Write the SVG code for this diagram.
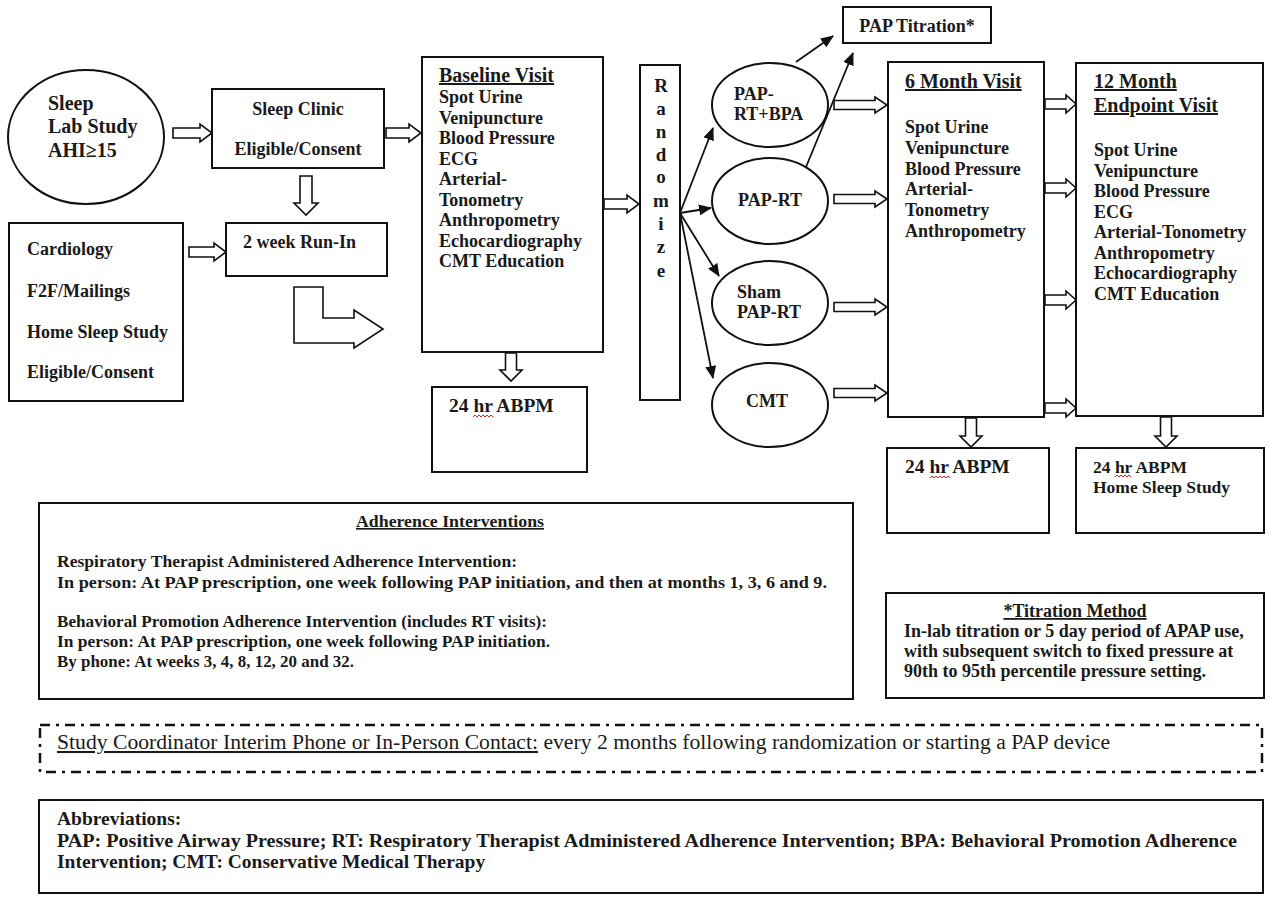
<svg xmlns="http://www.w3.org/2000/svg" width="1270" height="897" viewBox="0 0 1270 897">
<defs>
<style>
.bx{fill:#fff;stroke:#111;stroke-width:2}
.ha{fill:#fff;stroke:#111;stroke-width:1.6;stroke-linejoin:miter}
.ln{fill:none;stroke:#111;stroke-width:1.8}
.t{font-family:"Liberation Serif",serif;font-weight:bold;fill:#1a1a1a}
.r{font-family:"Liberation Serif",serif;font-weight:normal;fill:#1a1a1a}
.s18{font-size:18px}
.s20{font-size:20px}
.u{text-decoration:underline}
.sq{fill:none;stroke:#e02020;stroke-width:1}
</style>
<marker id="ah" markerUnits="userSpaceOnUse" markerWidth="13" markerHeight="11" refX="12" refY="5.5" orient="auto">
<path d="M0,0 L13,5.5 L0,11 Z" fill="#111"/>
</marker>
</defs>
<rect width="1270" height="897" fill="#fff"/>

<g id="connectors">
<path class="ha" d="M173,128 H200 V124 L212,133 L200,142 V138 H173 Z"/>
<path class="ha" d="M386,128 H409 V124 L421,133 L409,142 V138 H386 Z"/>
<path class="ha" d="M189,247 H214 V243 L226,252 L214,261 V257 H189 Z"/>
<path class="ha" d="M604,199 H627 V195 L639,204 L627,213 V209 H604 Z"/>
<path class="ha" d="M834,100.5 H875 V97 L887,105 L875,113 V109.5 H834 Z"/>
<path class="ha" d="M834,194.5 H875 V191 L887,199 L875,207 V203.5 H834 Z"/>
<path class="ha" d="M834,302.5 H875 V299 L887,307 L875,315 V311.5 H834 Z"/>
<path class="ha" d="M834,388.5 H875 V385 L887,393 L875,401 V397.5 H834 Z"/>
<path class="ha" d="M1045,99 H1066 V95 L1076,104 L1066,113 V109 H1045 Z"/>
<path class="ha" d="M1045,183 H1066 V179 L1076,188 L1066,197 V193 H1045 Z"/>
<path class="ha" d="M1045,295 H1066 V291 L1076,300 L1066,309 V305 H1045 Z"/>
<path class="ha" d="M1045,403 H1066 V399 L1076,408 L1066,417 V413 H1045 Z"/>
<path class="ha" d="M300,176 V203 H294 L306,215 L318,203 H312 V176 Z"/>
<path class="ha" d="M505.5,353 V370 H500 L511,381 L522,370 H516.5 V353 Z"/>
<path class="ha" d="M965.5,418 V436 H960 L971,447 L982,436 H976.5 V418 Z"/>
<path class="ha" d="M1160.5,417 V436 H1155 L1166,447 L1177,436 H1171.5 V417 Z"/>
<path class="ha" d="M294,287 H323 V318 H354 V310 L383,329 L354,348 V343 H294 Z"/>
<line class="ln" x1="680" y1="213" x2="713" y2="128" marker-end="url(#ah)"/>
<line class="ln" x1="680" y1="213" x2="711" y2="208" marker-end="url(#ah)"/>
<line class="ln" x1="680" y1="213" x2="719" y2="276" marker-end="url(#ah)"/>
<line class="ln" x1="680" y1="213" x2="713" y2="378" marker-end="url(#ah)"/>
<line class="ln" x1="796" y1="62" x2="833" y2="36" marker-end="url(#ah)"/>
<line class="ln" x1="806" y1="167" x2="853" y2="53" marker-end="url(#ah)"/>
</g>

<g id="sleep-lab">
<ellipse class="bx" cx="86" cy="137" rx="78" ry="67"/>
<text class="t s20" x="48" y="110">Sleep</text>
<text class="t s20" x="48" y="133">Lab Study</text>
<text class="t s20" x="48" y="157">AHI≥15</text>
</g>

<g id="sleep-clinic">
<rect class="bx" x="212" y="89" width="172" height="79"/>
<text class="t s18" x="298" y="115" text-anchor="middle">Sleep Clinic</text>
<text class="t s18" x="298" y="155" text-anchor="middle">Eligible/Consent</text>
</g>

<g id="run-in">
<rect class="bx" x="226" y="223" width="161" height="53"/>
<text class="t s18" x="243" y="248">2 week Run-In</text>
</g>

<g id="cardiology">
<rect class="bx" x="9" y="223" width="174" height="178"/>
<text class="t s18" x="27" y="255">Cardiology</text>
<text class="t s18" x="27" y="297">F2F/Mailings</text>
<text class="t s18" x="27" y="338">Home Sleep Study</text>
<text class="t s18" x="27" y="378">Eligible/Consent</text>
</g>

<g id="baseline-visit">
<rect class="bx" x="422" y="57" width="181" height="295"/>
<text class="t s20 u" x="439" y="82">Baseline Visit</text>
<text class="t s18" x="439" y="103">Spot Urine</text>
<text class="t s18" x="439" y="124">Venipuncture</text>
<text class="t s18" x="439" y="144">Blood Pressure</text>
<text class="t s18" x="439" y="165">ECG</text>
<text class="t s18" x="439" y="185">Arterial-</text>
<text class="t s18" x="439" y="206">Tonometry</text>
<text class="t s18" x="439" y="226">Anthropometry</text>
<text class="t s18" x="439" y="247">Echocardiography</text>
<text class="t s18" x="439" y="267">CMT Education</text>
</g>

<g id="baseline-abpm">
<rect class="bx" x="432" y="387" width="155" height="85"/>
<text class="t" font-size="19.5" x="449" y="412">24 hr ABPM</text>
<path class="sq" d="M473,417 l2,-2 l2,2 l2,-2 l2,2 l2,-2 l2,2 l2,-2 l2,2 l2,-2 l2,2"/>
</g>

<g id="randomize">
<rect class="bx" x="640" y="65" width="40" height="335"/>
<g class="t" font-size="19" text-anchor="middle">
<text x="661" y="92">R</text>
<text x="661" y="115">a</text>
<text x="661" y="138">n</text>
<text x="661" y="161">d</text>
<text x="661" y="183">o</text>
<text x="661" y="207">m</text>
<text x="661" y="230">i</text>
<text x="661" y="253">z</text>
<text x="661" y="277">e</text>
</g>
</g>

<g id="pap-rt-bpa">
<ellipse class="bx" cx="770" cy="105" rx="58" ry="42"/>
<text class="t s18" x="734" y="100">PAP-</text>
<text class="t s18" x="734" y="120">RT+BPA</text>
</g>

<g id="pap-rt">
<ellipse class="bx" cx="770" cy="201" rx="58" ry="43"/>
<text class="t s18" x="770" y="206" text-anchor="middle">PAP-RT</text>
</g>

<g id="sham-pap-rt">
<ellipse class="bx" cx="770" cy="303" rx="58" ry="42"/>
<text class="t s18" x="737" y="298">Sham</text>
<text class="t s18" x="737" y="318">PAP-RT</text>
</g>

<g id="cmt">
<ellipse class="bx" cx="770" cy="405" rx="58" ry="42"/>
<text class="t s18" x="767" y="407" text-anchor="middle">CMT</text>
</g>

<g id="pap-titration">
<rect class="bx" x="843" y="7" width="148" height="36"/>
<text class="t s18" x="917" y="32" text-anchor="middle">PAP Titration*</text>
</g>

<g id="six-month-visit">
<rect class="bx" x="888" y="62" width="156" height="355"/>
<text class="t s20 u" x="905" y="88">6 Month Visit</text>
<text class="t s18" x="905" y="133">Spot Urine</text>
<text class="t s18" x="905" y="154">Venipuncture</text>
<text class="t s18" x="905" y="175">Blood Pressure</text>
<text class="t s18" x="905" y="195">Arterial-</text>
<text class="t s18" x="905" y="216">Tonometry</text>
<text class="t s18" x="905" y="237">Anthropometry</text>
</g>

<g id="twelve-month-visit">
<rect class="bx" x="1076" y="63" width="187" height="353"/>
<text class="t s20 u" x="1094" y="88">12 Month</text>
<text class="t s20 u" x="1094" y="112">Endpoint Visit</text>
<text class="t s18" x="1094" y="156">Spot Urine</text>
<text class="t s18" x="1094" y="177">Venipuncture</text>
<text class="t s18" x="1094" y="197">Blood Pressure</text>
<text class="t s18" x="1094" y="218">ECG</text>
<text class="t s18" x="1094" y="238">Arterial-Tonometry</text>
<text class="t s18" x="1094" y="259">Anthropometry</text>
<text class="t s18" x="1094" y="279">Echocardiography</text>
<text class="t s18" x="1094" y="300">CMT Education</text>
</g>

<g id="six-month-abpm">
<rect class="bx" x="887" y="448" width="162" height="85"/>
<text class="t" font-size="19.5" x="905" y="473">24 hr ABPM</text>
<path class="sq" d="M930,478 l2,-2 l2,2 l2,-2 l2,2 l2,-2 l2,2 l2,-2 l2,2 l2,-2 l2,2"/>
</g>

<g id="twelve-month-abpm">
<rect class="bx" x="1076" y="448" width="188" height="85"/>
<text class="t" font-size="17.5" x="1093" y="473">24 hr ABPM</text>
<path class="sq" d="M1115,477 l2,-2 l2,2 l2,-2 l2,2 l2,-2 l2,2 l2,-2 l2,2"/>
<text class="t" font-size="17.5" x="1093" y="493">Home Sleep Study</text>
</g>

<g id="adherence-interventions">
<rect class="bx" x="39" y="503" width="814" height="196"/>
<text class="t u" font-size="16.5" x="450" y="527" text-anchor="middle" textLength="188" lengthAdjust="spacingAndGlyphs">Adherence Interventions</text>
<text class="t" font-size="16.5" x="57" y="567" textLength="460" lengthAdjust="spacingAndGlyphs">Respiratory Therapist Administered Adherence Intervention:</text>
<text class="t" font-size="16.5" x="57" y="588" textLength="770" lengthAdjust="spacingAndGlyphs">In person: At PAP prescription, one week following PAP initiation, and then at months 1, 3, 6 and 9.</text>
<text class="t" font-size="16.5" x="57" y="627" textLength="490" lengthAdjust="spacingAndGlyphs">Behavioral Promotion Adherence Intervention (includes RT visits):</text>
<text class="t" font-size="16.5" x="57" y="647" textLength="493" lengthAdjust="spacingAndGlyphs">In person: At PAP prescription, one week following PAP initiation.</text>
<text class="t" font-size="16.5" x="57" y="667" textLength="297" lengthAdjust="spacingAndGlyphs">By phone: At weeks 3, 4, 8, 12, 20 and 32.</text>
</g>

<g id="titration-method">
<rect class="bx" x="886" y="593" width="378" height="105"/>
<text class="t u" font-size="18" x="1075" y="617" text-anchor="middle">*Titration Method</text>
<text class="t" font-size="18" x="904" y="637">In-lab titration or 5 day period of APAP use,</text>
<text class="t" font-size="18" x="904" y="657">with subsequent switch to fixed pressure at</text>
<text class="t" font-size="18" x="904" y="677">90th to 95th percentile pressure setting.</text>
</g>

<g id="study-coordinator">
<rect x="40" y="725" width="1222" height="47" fill="#fff" stroke="#111" stroke-width="2.5" stroke-dasharray="10 6 3 6"/>
<text class="r" font-size="20.5" x="57" y="749" textLength="1053" lengthAdjust="spacingAndGlyphs"><tspan class="u">Study Coordinator Interim Phone or In-Person Contact:</tspan> every 2 months following randomization or starting a PAP device</text>
</g>

<g id="abbreviations">
<rect class="bx" x="39" y="800" width="1224" height="93"/>
<text class="t" font-size="19.5" x="57" y="825">Abbreviations:</text>
<text class="t" font-size="19.5" x="57" y="847" textLength="1180" lengthAdjust="spacingAndGlyphs">PAP: Positive Airway Pressure; RT: Respiratory Therapist Administered Adherence Intervention; BPA: Behavioral Promotion Adherence</text>
<text class="t" font-size="19.5" x="57" y="868">Intervention; CMT: Conservative Medical Therapy</text>
</g>
</svg>
